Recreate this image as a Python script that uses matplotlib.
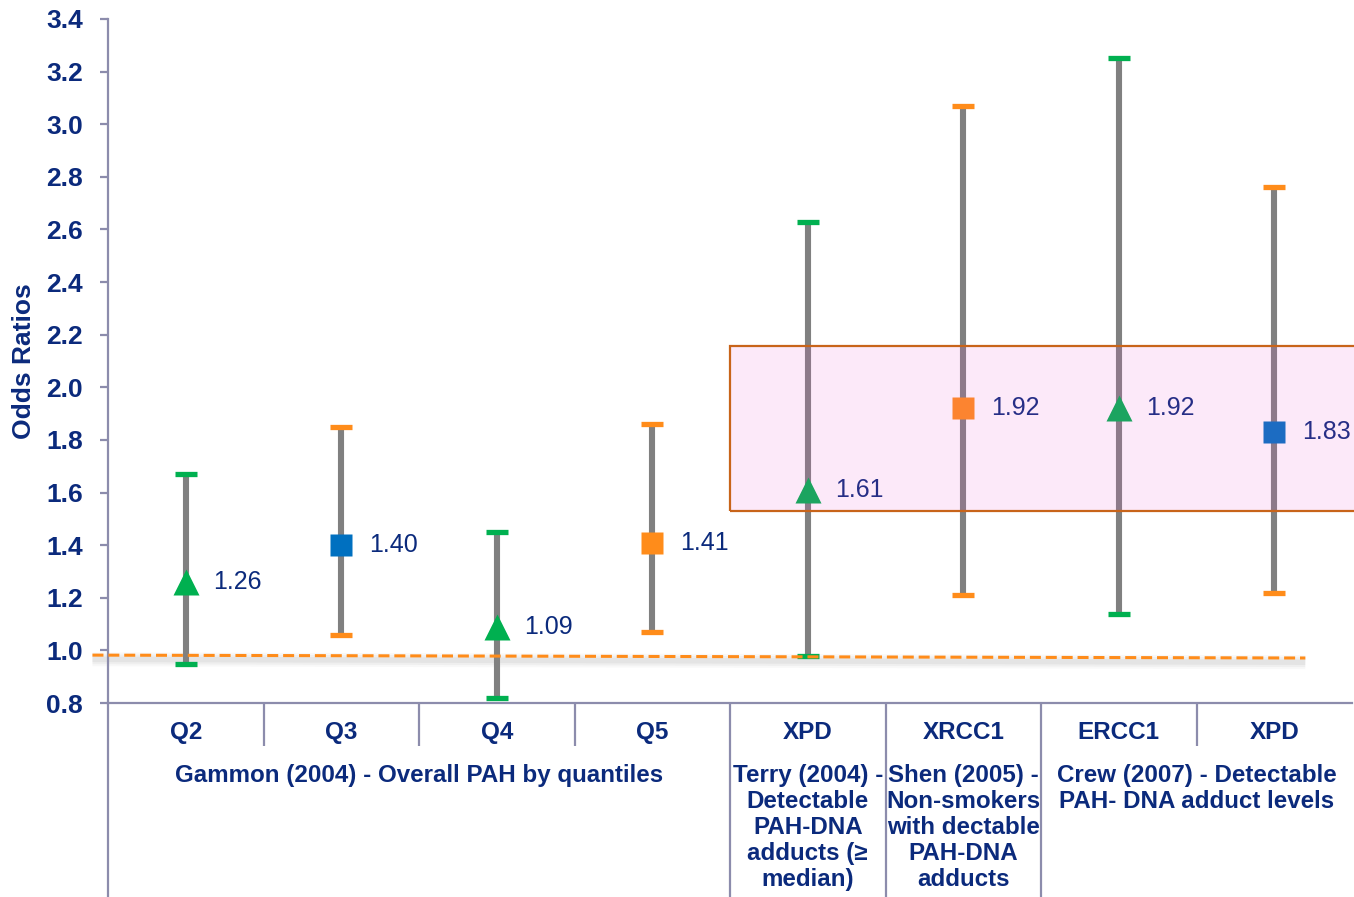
import matplotlib
matplotlib.use("Agg")
import matplotlib.pyplot as plt
from matplotlib.patches import Rectangle
from matplotlib.transforms import blended_transform_factory

# ---------------- data ----------------
categories = ['Q2', 'Q3', 'Q4', 'Q5', 'XPD', 'XRCC1', 'ERCC1', 'XPD']
odds_ratios = [1.26, 1.40, 1.09, 1.41, 1.61, 1.92, 1.92, 1.83]
ci_low = [0.95, 1.06, 0.82, 1.07, 0.98, 1.21, 1.14, 1.22]
ci_high = [1.67, 1.85, 1.45, 1.86, 2.63, 3.07, 3.25, 2.76]
marker_shapes = ['^', 's', '^', 's', '^', 's', '^', 's']
marker_colors = ['#00b050', '#0070c0', '#00b050', '#ff8c1a',
                 '#00b050', '#ff8c1a', '#00b050', '#0070c0']
cap_colors = ['#00b050', '#ff8c1a', '#00b050', '#ff8c1a',
              '#00b050', '#ff8c1a', '#00b050', '#ff8c1a']
group_labels = ['Gammon (2004) - Overall PAH by quantiles',
                'Terry (2004) -\nDetectable\nPAH-DNA\nadducts (≥\nmedian)',
                'Shen (2005) -\nNon-smokers\nwith dectable\nPAH-DNA\nadducts',
                'Crew (2007) - Detectable\nPAH- DNA adduct levels']
group_spans = [(0, 3), (4, 4), (5, 5), (6, 7)]
yticks = [0.8, 1.0, 1.2, 1.4, 1.6, 1.8, 2.0, 2.2, 2.4, 2.6, 2.8, 3.0, 3.2, 3.4]
highlight_range = (1.53, 2.157)   # pink box (OR range)
ref_line = [0.982, 0.971]          # dashed reference line (left, right)

# ---------------- style ----------------
navy = '#0b2a7c'
spine_col = '#8c8cac'
font = ['Liberation Sans', 'DejaVu Sans']
plt.rcParams['font.family'] = font

W, H = 1354, 897
fig = plt.figure(figsize=(W / 100, H / 100), dpi=100)
ax_left, ax_right, ax_top, ax_bot = 108, 1352, 19, 703
ax = fig.add_axes([ax_left / W, 1 - ax_bot / H, (ax_right - ax_left) / W,
                   (ax_bot - ax_top) / H])

n = len(categories)
xs = list(range(n))
ax.set_xlim(-0.5, n - 0.5)
ax.set_ylim(0.8, 3.4)

# error bars, markers, value labels
for i in xs:
    ax.plot([i, i], [ci_low[i], ci_high[i]], color='#808080', lw=4.4,
            solid_capstyle='butt', zorder=2)
    ax.plot([i, i], [ci_low[i], ci_high[i]], linestyle='none', marker='_',
            ms=16, mew=3.8, color=cap_colors[i], zorder=3)
    ms = 18.5 if marker_shapes[i] == '^' else 16
    ax.plot(i, odds_ratios[i], marker=marker_shapes[i], ms=ms,
            color=marker_colors[i], mec='none', linestyle='none', zorder=4)
    ax.annotate(f'{odds_ratios[i]:.2f}', (i, odds_ratios[i]),
                xytext=(20, 0), textcoords='offset points', annotation_clip=False,
                ha='left', va='center', fontsize=18, color=navy, zorder=5)

# reference dashed line with soft shadow
line_x = [-0.6, 7.2]
shadow_dy = 0.016
for lw, a in [(10, 0.05), (7, 0.07), (4, 0.09)]:
    ax.plot(line_x, [v - shadow_dy for v in ref_line], color='#808080', lw=lw,
            alpha=a, clip_on=False, zorder=2.5, solid_capstyle='butt')
ax.plot(line_x, ref_line, color='#ff8c1a', lw=2.2,
        dashes=(3.6, 1.6), clip_on=False, zorder=3)

# highlight box
lo, hi = highlight_range
ax.add_patch(Rectangle((3.5, lo), 4.5, hi - lo,
                       facecolor=(238 / 255, 80 / 255, 213 / 255),
                       alpha=0.12, edgecolor='none', zorder=10, clip_on=False))
ax.add_patch(Rectangle((3.5, lo), 4.5, hi - lo, facecolor='none',
                       edgecolor='#c8641a', lw=1.6, zorder=11, clip_on=False))

# axes styling
for s in ['top', 'right']:
    ax.spines[s].set_visible(False)
for s in ['left', 'bottom']:
    ax.spines[s].set_color(spine_col)
    ax.spines[s].set_linewidth(1.6)
ax.set_yticks(yticks)
ax.set_yticklabels([f'{v:.1f}' for v in yticks], fontsize=19,
                   fontweight='bold', color=navy)
ax.tick_params(axis='y', length=6, width=1.6, color=spine_col, pad=12)
ax.set_xticks([])

trans = blended_transform_factory(ax.transData, ax.transAxes)
px = 1 / (ax_bot - ax_top)  # one pixel in axes fraction (vertical)

# separators below the axis
long_seps = {-0.5, 3.5, 4.5, 5.5}
for b in [-0.5 + k for k in range(n)]:
    depth = -(H - ax_bot + 5) * px if b in long_seps else -43 * px
    ax.plot([b, b], [0, depth], transform=trans, color=spine_col, lw=1.6,
            clip_on=False, solid_capstyle='butt')

# category labels
for i, c in enumerate(categories):
    ax.text(i, -29 * px, c, transform=trans, ha='center', va='center',
            fontsize=17.5, fontweight='bold', color=navy)

# group labels
for (a, b), lab in zip(group_spans, group_labels):
    ax.text((a + b) / 2, -61 * px, lab, transform=trans, ha='center', va='top',
            fontsize=17.4, fontweight='bold', color=navy, linespacing=1.17,
            multialignment='center')

fig.text(24 / W, 1 - 361 / H, 'Odds Ratios', rotation=90, ha='center',
         va='center', fontsize=19, fontweight='bold', color=navy)

fig.savefig('out.png', dpi=100)
